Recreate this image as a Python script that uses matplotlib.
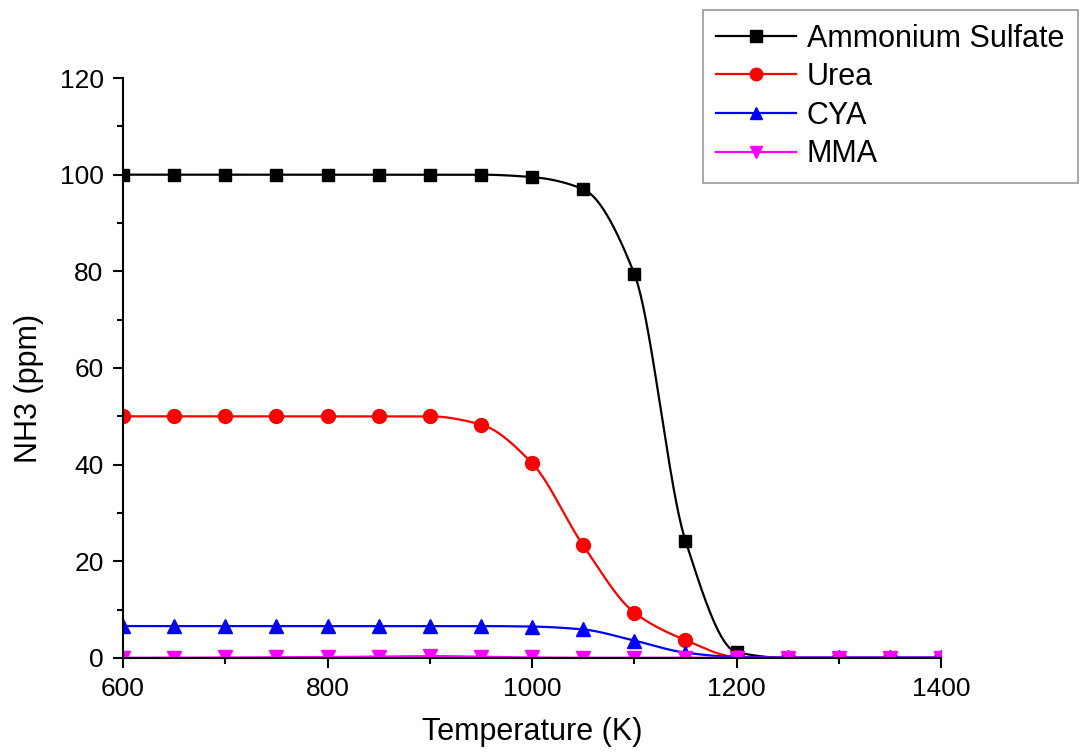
import numpy as np
import matplotlib
matplotlib.use("Agg")
import matplotlib.pyplot as plt
from matplotlib.ticker import MultipleLocator

plt.rcParams['font.family'] = ['Liberation Sans', 'DejaVu Sans']

# data
temps = [600, 650, 700, 750, 800, 850, 900, 950, 1000, 1050, 1100, 1150, 1200, 1250, 1300, 1350, 1400]
ammonium_sulfate = [100, 100, 100, 100, 100, 100, 100, 100, 99.5, 97.0, 79.5, 24.3, 1.2, 0, 0, 0, 0]
urea = [50, 50, 50, 50, 50, 50, 50, 48.3, 40.3, 23.3, 9.4, 3.7, 0.2, 0, 0, 0, 0]
cya = [6.6, 6.6, 6.6, 6.6, 6.6, 6.6, 6.6, 6.6, 6.5, 5.9, 3.6, 1.1, 0.2, 0.1, 0.1, 0.1, 0.1]
mma = [0.05, 0.05, 0.1, 0.15, 0.2, 0.3, 0.4, 0.25, 0.1, 0.05, 0.05, 0.05, 0.05, 0.05, 0.05, 0.05, 0.05]


def smooth(x, y, n=40):
    "monotone cubic (pchip style) curve through the points, for drawing the connecting line"
    x = np.asarray(x, float)
    y = np.asarray(y, float)
    h = np.diff(x)
    d = np.diff(y) / h
    m = np.zeros_like(y)
    for k in range(1, len(x) - 1):
        if d[k - 1] * d[k] > 0:
            w1 = 2 * h[k] + h[k - 1]
            w2 = h[k] + 2 * h[k - 1]
            m[k] = (w1 + w2) / (w1 / d[k - 1] + w2 / d[k])
    m[0] = d[0]
    m[-1] = d[-1]
    xs, ys = [], []
    for k in range(len(x) - 1):
        t = np.linspace(0, 1, n, endpoint=False)
        h00 = 2 * t**3 - 3 * t**2 + 1
        h10 = t**3 - 2 * t**2 + t
        h01 = -2 * t**3 + 3 * t**2
        h11 = t**3 - t**2
        xs.append(x[k] + t * h[k])
        ys.append(h00 * y[k] + h10 * h[k] * m[k] + h01 * y[k + 1] + h11 * h[k] * m[k + 1])
    xs.append([x[-1]])
    ys.append([y[-1]])
    return np.concatenate(xs), np.concatenate(ys)


fig = plt.figure(figsize=(10.86, 7.53), dpi=100)
ax = fig.add_axes([0.1133, 0.1262, 0.7532, 0.7702])

series = [
    ("Ammonium Sulfate", ammonium_sulfate, "black", "s", 9),
    ("Urea", urea, "#ff0000", "o", 10),
    ("CYA", cya, "#0000ff", "^", 10),
    ("MMA", mma, "#ff00ff", "v", 10),
]
for name, vals, col, mk, ms in series:
    sx, sy = smooth(temps, vals)
    ax.plot(sx, sy, color=col, lw=1.6)
    ax.plot(temps, vals, linestyle="none", marker=mk, ms=ms, color=col)
    ax.plot([], [], color=col, lw=1.6, marker=mk, ms=ms - 1, label=name)

ax.set_xlim(600, 1400)
ax.set_ylim(0, 120)
ax.xaxis.set_major_locator(MultipleLocator(200))
ax.xaxis.set_minor_locator(MultipleLocator(100))
ax.yaxis.set_major_locator(MultipleLocator(20))
ax.yaxis.set_minor_locator(MultipleLocator(10))
ax.tick_params(which="major", direction="out", length=7, width=1.5, labelsize=19, pad=7)
ax.tick_params(which="minor", direction="out", length=4, width=1.5)
for s in ["top", "right"]:
    ax.spines[s].set_visible(False)
for s in ["left", "bottom"]:
    ax.spines[s].set_linewidth(1.5)

ax.set_xlabel("Temperature (K)", fontsize=22, labelpad=11)
ax.set_ylabel("NH3 (ppm)", fontsize=22)
ax.yaxis.set_label_coords(-0.097, 0.464)

leg = fig.legend(loc="upper left", bbox_to_anchor=(0.647, 0.987), fontsize=22,
                 frameon=True, fancybox=False, edgecolor="gray", handlelength=2.6,
                 labelspacing=0.28, borderpad=0.45, handletextpad=0.35, borderaxespad=0)
leg.get_frame().set_linewidth(1.2)

fig.savefig("out.png", dpi=100)
